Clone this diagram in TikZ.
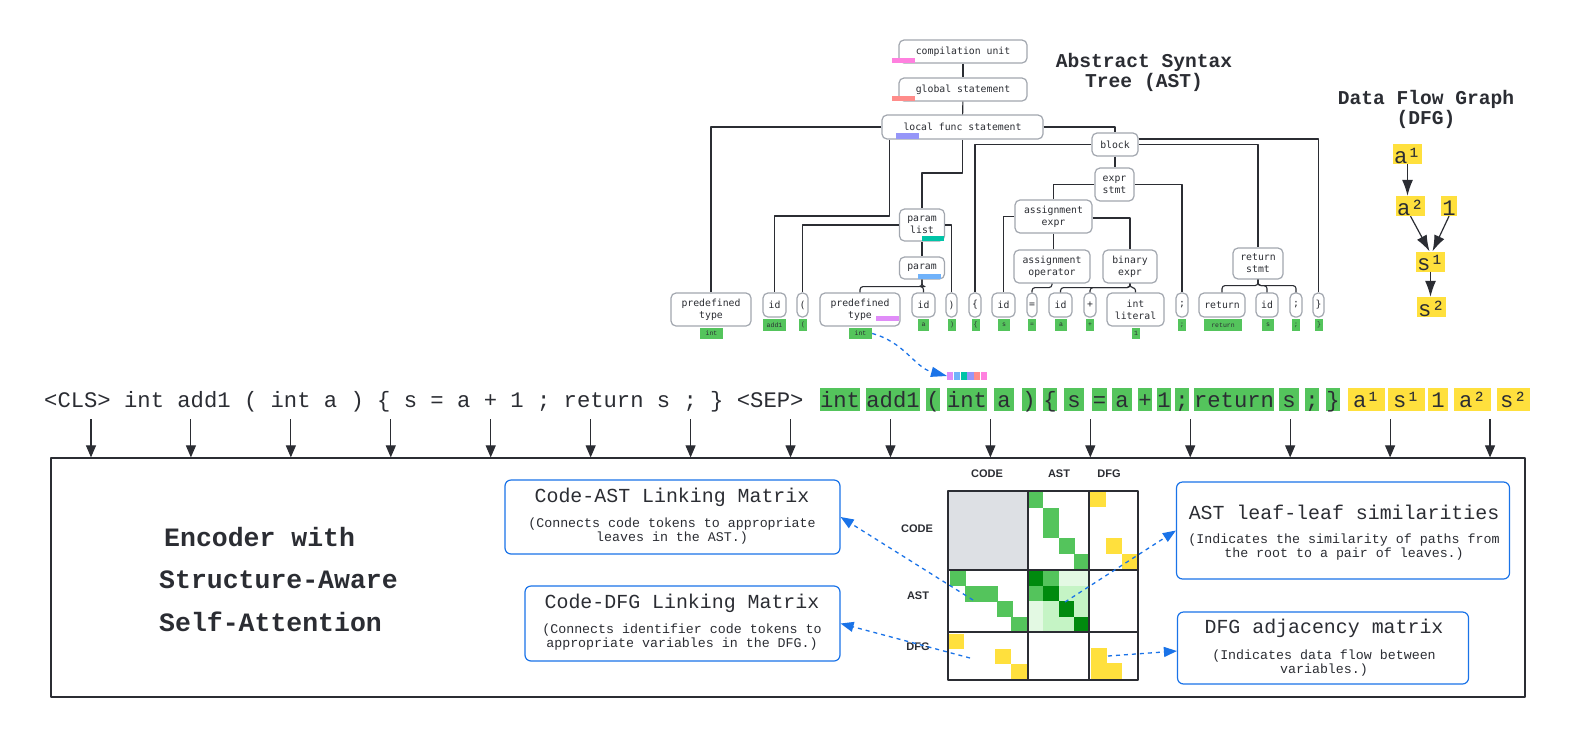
\documentclass[tikz,border=0pt]{standalone}
\usepackage{fontspec}
\setmainfont{Liberation Sans}
\newfontfamily\lmono{Liberation Mono}
\newfontfamily\dmono{DejaVu Sans Mono}
\usetikzlibrary{arrows.meta,calc}
\definecolor{ink}{HTML}{2B2D33}
\definecolor{tokgreen}{HTML}{54C45C}
\definecolor{tokyellow}{HTML}{FFE03D}
\definecolor{dgreen}{HTML}{008A0E}
\definecolor{lgreen}{HTML}{C5F4C5}
\definecolor{vlgreen}{HTML}{E3F9E3}
\definecolor{mgray}{HTML}{DDE0E4}
\definecolor{nodeborder}{HTML}{A2A7AF}
\definecolor{linkblue}{HTML}{1A73E8}
\definecolor{cpink}{HTML}{FF80DF}
\definecolor{csalmon}{HTML}{FF8C8A}
\definecolor{cperi}{HTML}{9696F8}
\definecolor{cteal}{HTML}{00C4A7}
\definecolor{cblue}{HTML}{70B2FA}
\definecolor{cviolet}{HTML}{E08CF8}
\newcommand{\fsz}[2]{\fontsize{#1}{#2}\selectfont}
\tikzset{
  tn/.style={draw=nodeborder, line width=1.2pt, rounded corners=5pt, fill=white, inner sep=0pt,
    font=\dmono\fsz{9.8}{12}, text=ink, align=center},
  tlab/.style={fill=tokgreen, inner sep=0pt, minimum height=12pt, font=\lmono\fsz{6.5}{7}, text=ink},
  tedge/.style={draw=ink, line width=1.1pt},
  tokg/.style={fill=tokgreen, inner xsep=0pt, inner ysep=0pt, minimum height=23pt, text height=19pt, text depth=4pt,
    font=\lmono\fsz{22.2}{24}, text=ink},
  toky/.style={tokg, fill=tokyellow},
  tokplain/.style={inner sep=0pt, text height=19pt, text depth=4pt, font=\lmono\fsz{22.2}{24}, text=ink},
  downarr/.style={draw=ink, line width=1.1pt, -{Triangle[length=12pt,width=10pt]}},
  dfgn/.style={fill=tokyellow, inner xsep=1.3pt, inner ysep=0pt, minimum height=20pt, text height=19pt, text depth=1pt,
    font=\lmono\fsz{22.2}{24}, text=ink},
  dfgarr/.style={draw=ink, line width=1.2pt, -{Latex[length=16pt,width=11pt]}},
  btitle/.style={font=\lmono\bfseries\fsz{19.6}{20}, text=ink, align=center, inner sep=0pt},
  enctext/.style={font=\lmono\bfseries\fsz{26.5}{28}, text=ink, inner sep=0pt},
  mlab/.style={font=\bfseries\fsz{11}{11}, text=ink, inner sep=0pt},
  ibox/.style={draw=linkblue, line width=1.2pt, rounded corners=6pt, fill=white, inner sep=0pt},
  ititle/.style={font=\lmono\fsz{19.9}{20}, text=ink, inner sep=0pt, text height=14.3pt, text depth=0pt},
  isub/.style={font=\lmono\fsz{13.3}{14}, text=ink, inner sep=0pt, align=center},
  linkarr/.style={draw=linkblue, line width=1.3pt, dash pattern=on 4pt off 4pt, -{Triangle[length=13pt,width=10pt]}},
  sqn/.style={inner sep=0pt, minimum width=6.2pt, minimum height=8pt},
}
\begin{document}
\begin{tikzpicture}[x=1pt,y=-1pt,line join=round]
\fill[white] (0,0) rectangle (1574,740);
\useasboundingbox (0,0) rectangle (1574,740);

% ================= AST =================
\node[btitle] (astt) at (1144,72) {Abstract Syntax\\Tree (AST)};

\node[tn, minimum width=128pt, minimum height=23pt] (cu) at (963,51.5) {compilation unit};
\node[tn, minimum width=128pt, minimum height=23pt] (gs) at (963,89.5) {global statement};
\node[tn, minimum width=161pt, minimum height=24pt] (lf) at (962.5,127) {local func statement};
\node[tn, minimum width=46pt, minimum height=23pt] (blk) at (1115,144.5) {block};
\node[tn, minimum width=39pt, minimum height=33pt] (es) at (1114.5,184.5) {expr\\stmt};
\node[tn, minimum width=77pt, minimum height=33pt] (ae) at (1053.5,216.5) {assignment\\expr};
\node[tn, minimum width=76pt, minimum height=33pt] (ao) at (1052,266.5) {assignment\\operator};
\node[tn, minimum width=54pt, minimum height=33pt] (be) at (1130,266.5) {binary\\expr};
\node[tn, minimum width=50pt, minimum height=31pt] (rs) at (1258,263.5) {return\\stmt};
\node[tn, minimum width=45pt, minimum height=32pt] (pl) at (922,225) {param\\list};
\node[tn, minimum width=45pt, minimum height=22pt] (pm) at (922,268) {param};

% leaves
\node[tn, minimum width=80pt, minimum height=33pt] (pt1) at (711,309.5) {predefined\\type};
\node[tn, minimum width=23pt, minimum height=24pt] (id1) at (774.5,305) {id};
\node[tn, minimum width=11pt, minimum height=24pt] (lp1) at (802.5,305) {(};
\node[tn, minimum width=80pt, minimum height=33pt] (pt2) at (860,309.5) {predefined\\type};
\node[tn, minimum width=23pt, minimum height=24pt] (id2) at (923.5,305) {id};
\node[tn, minimum width=11pt, minimum height=24pt] (rp1) at (951.5,305) {)};
\node[tn, minimum width=12pt, minimum height=24pt] (lb) at (975,305) {\{};
\node[tn, minimum width=23pt, minimum height=24pt] (id3) at (1003.5,305) {id};
\node[tn, minimum width=10pt, minimum height=24pt] (eq) at (1032,305) {=};
\node[tn, minimum width=23pt, minimum height=24pt] (id4) at (1060.5,305) {id};
\node[tn, minimum width=12pt, minimum height=24pt] (tplus) at (1090,305) {+};
\node[tn, minimum width=57pt, minimum height=33pt] (il) at (1135.5,309.5) {int\\literal};
\node[tn, minimum width=12pt, minimum height=24pt] (sc1) at (1182,305) {;};
\node[tn, minimum width=46pt, minimum height=24pt] (ret) at (1222,305) {return};
\node[tn, minimum width=22pt, minimum height=24pt] (id5) at (1267,305) {id};
\node[tn, minimum width=12pt, minimum height=24pt] (sc2) at (1296,305) {;};
\node[tn, minimum width=11pt, minimum height=24pt] (rb) at (1318.5,305) {\}};

% leaf labels
\node[tlab, minimum width=23pt, minimum height=11pt] (lpt1) at (711.5,333.5) {int};
\node[tlab, minimum width=23pt] (lid1) at (774.5,325) {add1};
\node[tlab, minimum width=8pt] (llp1) at (803,325) {(};
\node[tlab, minimum width=23pt, minimum height=11pt] (lpt2) at (860.5,333.5) {int};
\node[tlab, minimum width=11pt] (lid2) at (923.5,325) {a};
\node[tlab, minimum width=8pt] (lrp1) at (952,325) {)};
\node[tlab, minimum width=8pt] (llb) at (975.5,325) {\{};
\node[tlab, minimum width=12pt] (lid3) at (1004,325) {s};
\node[tlab, minimum width=8pt] (leq) at (1032,325) {=};
\node[tlab, minimum width=12pt] (lid4) at (1061,325) {a};
\node[tlab, minimum width=8pt] (lplus) at (1090,325) {+};
\node[tlab, minimum width=8pt, minimum height=11pt] (lil) at (1136,333.5) {1};
\node[tlab, minimum width=8pt] (lsc1) at (1182,325) {;};
\node[tlab, minimum width=38pt] (lret) at (1223,325) {return};
\node[tlab, minimum width=12pt] (lid5) at (1268,325) {s};
\node[tlab, minimum width=8pt] (lsc2) at (1296,325) {;};
\node[tlab, minimum width=8pt] (lrb) at (1319,325) {\}};

% colour bars
\fill[cpink] (892,58) rectangle (915,62.7);
\fill[csalmon] (892,96) rectangle (915,100.7);
\fill[cperi] (896,133) rectangle (919,138.7);
\fill[cteal] (922,236) rectangle (944,240.7);
\fill[cblue] (918,274) rectangle (941,279);
\fill[cviolet] (876,316) rectangle (899,321);

% tree edges
\coordinate (yA) at (0,216);
\coordinate (yB) at (0,173);
\draw[tedge] (cu) -- (gs);
\draw[tedge] (gs) -- (lf);
\draw[tedge] (lf.west) -| (pt1.north);
\draw[tedge] ([xshift=8pt]lf.south west) |- (id1.north |- yA) -- (id1.north);
\draw[tedge] (lf.south) -- (lf.south |- yB) -| (pl.north);
\draw[tedge] (lf.east) -| (blk.north);
\draw[tedge] (blk.west) -| (lb.north);
\draw[tedge] ([yshift=5.5pt]blk.east) -| (rb.north);
\draw[tedge] (blk.east) -| (rs.north);
\draw[tedge] (blk.south) -- (blk.south |- es.north);
\draw[tedge] (es.west) -| (ae.north);
\draw[tedge] (es.east) -| (sc1.north);
\draw[tedge] (ae.west) -| (id3.north);
\draw[tedge] (ae.south) -- (ae.south |- ao.north);
\draw[tedge] ([yshift=-1.5pt]ae.east) -| (be.north);
\draw[tedge, rounded corners=3pt] (ao.south) -- ++(0,4) -| (eq.north);
\draw[tedge, rounded corners=3pt] (be.south) -- ++(0,4) -| (id4.north);
\draw[tedge, rounded corners=3pt] (be.south) -- ++(0,4) -| (tplus.north);
\draw[tedge, rounded corners=3pt] (be.south) -- ++(0,4) -| (il.north);
\draw[tedge, rounded corners=3pt] (rs.south) -- ++(0,6) -| (ret.north);
\draw[tedge, rounded corners=3pt] (rs.south) -- ++(0,6) -| (id5.north);
\draw[tedge, rounded corners=3pt] (rs.south) -- ++(0,6) -| (sc2.north);
\draw[tedge] (pl.west) -| (lp1.north);
\draw[tedge] (pl.east) -| (rp1.north);
\draw[tedge] (pl.south) -- (pm.north);
\draw[tedge, rounded corners=3pt] (pm.south) -- ++(0,7) -| (pt2.north);
\draw[tedge, rounded corners=3pt] (pm.south) -- ++(0,7) -| (id2.north);

% path colour squares
\node[sqn, fill=cviolet] (sq1) at (950.3,376) {};
\node[sqn, fill=cblue] (sq2) at (957,376) {};
\node[sqn, fill=cteal] (sq3) at (963.7,376) {};
\node[sqn, fill=cperi] (sq4) at (970.4,376) {};
\node[sqn, fill=csalmon] (sq5) at (977.1,376) {};
\node[sqn, fill=cpink] (sq6) at (983.8,376) {};
\draw[linkarr, -{Triangle[length=16pt,width=10pt]}] (lpt2.east) to[out=-15,in=165] (sq1.west);

% ================= DFG =================
\node[btitle] (dfgt) at (1426,109) {Data Flow Graph\\(DFG)};
\node[dfgn] (da1) at (1407.5,154) {a¹};
\node[dfgn] (da2) at (1410.5,206) {a²};
\node[dfgn] (d1) at (1449,206) {1};
\node[dfgn] (ds1) at (1430.5,261.5) {s¹};
\node[dfgn] (ds2) at (1431.5,307) {s²};
\draw[dfgarr] (da1.south) -- (da1.south |- da2.north);
\draw[dfgarr] (da2.south) -- ([xshift=-1pt]ds1.north);
\draw[dfgarr] (d1.south) -- ([xshift=2pt]ds1.north);
\draw[dfgarr] (ds1.south) -- (ds1.south |- ds2.north);

% ================= token row =================
\node[tokplain, anchor=west] (code) at (44,399.5) {<CLS> int add1 ( int a ) \{ s = a + 1 ; return s ; \} <SEP>};
\node[tokg, minimum width=40pt] (tk1) at (840,399.5) {int};
\node[tokg, minimum width=50pt] (tk2) at (893,399.5) {add1};
\node[tokg, minimum width=14pt] (tk3) at (933,399.5) {(};
\node[tokg, minimum width=40pt] (tk4) at (967,399.5) {int};
\node[tokg, minimum width=20pt] (tk5) at (1004,399.5) {a};
\node[tokg, minimum width=14pt] (tk6) at (1029,399.5) {)};
\node[tokg, minimum width=14pt] (tk7) at (1050,399.5) {\{};
\node[tokg, minimum width=20pt] (tk8) at (1074,399.5) {s};
\node[tokg, minimum width=15pt] (tk9) at (1099.5,399.5) {=};
\node[tokg, minimum width=20pt] (tk10) at (1122,399.5) {a};
\node[tokg, minimum width=14pt] (tk11) at (1145,399.5) {+};
\node[tokg, minimum width=14pt] (tk12) at (1164,399.5) {1};
\node[tokg, minimum width=14pt] (tk13) at (1182,399.5) {;};
\node[tokg, minimum width=80pt] (tk14) at (1234,399.5) {return};
\node[tokg, minimum width=20pt] (tk15) at (1289,399.5) {s};
\node[tokg, minimum width=14pt] (tk16) at (1312,399.5) {;};
\node[tokg, minimum width=14pt] (tk17) at (1333,399.5) {\}};
\node[toky, minimum width=37pt] (ty1) at (1366.5,399.5) {a¹};
\node[toky, minimum width=37pt] (ty2) at (1406.5,399.5) {s¹};
\node[toky, minimum width=20pt] (ty3) at (1438,399.5) {1};
\node[toky, minimum width=37pt] (ty4) at (1472.5,399.5) {a²};
\node[toky, minimum width=33pt] (ty5) at (1513.5,399.5) {s²};

% ================= encoder =================
\node[draw=ink, line width=1.2pt, minimum width=1474pt, minimum height=239pt, inner sep=0pt] (enc) at (788,577.5) {};
\foreach \i in {0,...,14} {
  \coordinate (ta\i) at ({91+99.93*\i},419);
  \draw[downarr] (ta\i) -- (ta\i |- enc.north);
}
\node[enctext, anchor=west] (enc1) at (164,537) {Encoder with};
\node[enctext, anchor=west] (enc2) at (159,580) {Structure-Aware};
\node[enctext, anchor=west] (enc3) at (159,622) {Self-Attention};

% ================= matrix =================
\fill[mgray] (948,491) rectangle (1028,570);
\fill[tokgreen] (1028,491) rectangle (1043,508);
\fill[tokgreen] (1043,508) rectangle (1059,538);
\fill[tokgreen] (1059,538) rectangle (1075,554);
\fill[tokgreen] (1074,554) rectangle (1089,570);
\fill[tokyellow] (1090,492) rectangle (1106,507);
\fill[tokyellow] (1106,538) rectangle (1122,554);
\fill[tokyellow] (1122,554) rectangle (1138,570);
\fill[tokgreen] (950,571) rectangle (966,586);
\fill[tokgreen] (965,586) rectangle (998,602);
\fill[tokgreen] (997,601) rectangle (1013,617);
\fill[tokgreen] (1011,617) rectangle (1027,632);
% AST-AST 4x4
\fill[dgreen]   (1028,570) rectangle (1043.3,585.5);
\fill[tokgreen] (1043.3,570) rectangle (1058.5,585.5);
\fill[vlgreen]  (1058.5,570) rectangle (1089,585.5);
\fill[tokgreen] (1028,585.5) rectangle (1043.3,601);
\fill[dgreen]   (1043.3,585.5) rectangle (1058.5,601);
\fill[lgreen]   (1058.5,585.5) rectangle (1089,601);
\fill[vlgreen]  (1028,601) rectangle (1043.3,632);
\fill[lgreen]   (1043.3,601) rectangle (1058.5,632);
\fill[dgreen]   (1058.5,601) rectangle (1073.8,616.5);
\fill[lgreen]   (1073.8,601) rectangle (1089,616.5);
\fill[lgreen]   (1058.5,616.5) rectangle (1073.8,632);
\fill[dgreen]   (1073.8,616.5) rectangle (1089,633);
% DFG rows
\fill[tokyellow] (949,634) rectangle (964,649);
\fill[tokyellow] (995,649) rectangle (1011,664);
\fill[tokyellow] (1011,664) rectangle (1027,680);
\fill[tokyellow] (1091,648) rectangle (1107,679);
\fill[tokyellow] (1107,663) rectangle (1122,679);
% grid
\draw[ink, line width=1.3pt] (948,491) rectangle (1138,680);
\draw[ink, line width=1.3pt] (1028,491) -- (1028,680);
\draw[ink, line width=1.3pt] (1089,491) -- (1089,680);
\draw[ink, line width=1.3pt] (948,570) -- (1138,570);
\draw[ink, line width=1.3pt] (948,632) -- (1138,632);
% labels
\node[mlab] (mc1) at (987,474) {CODE};
\node[mlab] (mc2) at (1059,474) {AST};
\node[mlab] (mc3) at (1109,474) {DFG};
\node[mlab] (mr1) at (917,529) {CODE};
\node[mlab] (mr2) at (918,596) {AST};
\node[mlab] (mr3) at (918,647) {DFG};

% ================= info boxes =================
\node[ibox, minimum width=335pt, minimum height=74pt] (cab) at (672.5,517) {};
\node[ititle] (cabt) at (672,495) {Code-AST Linking Matrix};
\node[isub] (cabs) at (672,531) {(Connects code tokens to appropriate\\leaves in the AST.)};

\node[ibox, minimum width=315pt, minimum height=75pt] (cdb) at (682.5,623.5) {};
\node[ititle] (cdbt) at (682,601) {Code-DFG Linking Matrix};
\node[isub] (cdbs) at (682,637.5) {(Connects identifier code tokens to\\appropriate variables in the DFG.)};

\node[ibox, minimum width=333pt, minimum height=97pt] (alb) at (1343,530.5) {};
\node[ititle] (albt) at (1344,512) {AST leaf-leaf similarities};
\node[isub] (albs) at (1344,547.5) {(Indicates the similarity of paths from\\the root to a pair of leaves.)};

\node[ibox, minimum width=291pt, minimum height=72pt] (dab) at (1323,648) {};
\node[ititle] (dabt) at (1324,626) {DFG adjacency matrix};
\node[isub] (dabs) at (1324,663) {(Indicates data flow between\\variables.)};

% links
\coordinate (mAC) at (973,600);
\coordinate (mDC) at (970,658);
\coordinate (mAA) at (1065,602);
\coordinate (mDD) at (1108,656);
\draw[linkarr] (mAC) -- (cab.east);
\draw[linkarr] (mDC) -- (cdb.east);
\draw[linkarr] (mAA) -- (alb.west);
\draw[linkarr] (mDD) -- ([yshift=-3pt]dab.west);
\end{tikzpicture}
\end{document}
